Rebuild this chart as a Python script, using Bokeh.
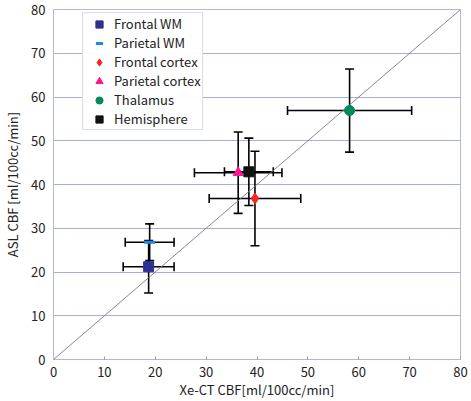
from bokeh.plotting import figure
from bokeh.models import ColumnDataSource, Whisker, TeeHead, Legend, LegendItem, FixedTicker, Range1d
from bokeh.embed import file_html
from bokeh.resources import INLINE

names = ["Frontal WM", "Parietal WM", "Frontal cortex", "Parietal cortex", "Thalamus", "Hemisphere"]
xe_cbf = [18.7, 18.9, 39.6, 36.3, 58.2, 38.4]
asl_cbf = [21.2, 26.8, 36.8, 42.7, 56.9, 42.9]
xe_sd = [5.0, 4.8, 9.0, 8.6, 12.2, 4.8]
asl_sd = [6.0, 4.2, 10.8, 9.3, 9.5, 7.7]
ticks = [0, 10, 20, 30, 40, 50, 60, 70, 80]
identity = [0, 80]

colors = ["#2e3192", "#1e88e5", "#ff2222", "#ff1493", "#008c5a", "#111111"]
markers = ["square", "dash", "diamond", "triangle", "circle", "square"]
sizes = [10, 11, 11, 10, 10, 10]

FONT = "Noto Sans CJK JP"

p = figure(width=471, height=401, output_backend="svg", toolbar_location=None,
           x_range=Range1d(0, 80), y_range=Range1d(0, 80),
           min_border_left=53, min_border_right=11, min_border_top=9, min_border_bottom=42)

p.background_fill_color = "white"
p.border_fill_color = "white"
p.outline_line_color = "#b4b8d4"
p.outline_line_width = 1

p.xgrid.grid_line_color = None
p.ygrid.grid_line_color = "#a9aee0"
p.ygrid.grid_line_width = 1

for ax in (p.xaxis[0], p.yaxis[0]):
    ax.ticker = FixedTicker(ticks=ticks)
    ax.axis_line_color = "#b4b8d4"
    ax.major_label_text_font = FONT
    ax.major_label_text_font_size = "13px"
    ax.major_label_text_color = "#222222"
    ax.axis_label_text_font = FONT
    ax.axis_label_text_font_size = "13px"
    ax.axis_label_text_font_style = "normal"
    ax.axis_label_text_color = "#222222"
    ax.minor_tick_line_color = None

p.xaxis.major_tick_in = 3
p.xaxis.major_tick_out = 0
p.xaxis.major_tick_line_color = "#999999"
p.yaxis.major_tick_line_color = None
p.yaxis.major_tick_in = 0
p.yaxis.major_tick_out = 0
p.xaxis.axis_label = "Xe-CT CBF[ml/100cc/min]"
p.yaxis.axis_label = "ASL CBF [ml/100cc/min]"
p.xaxis.axis_label_standoff = 0
p.yaxis.axis_label_standoff = 6
p.xaxis.major_label_standoff = 7
p.yaxis.major_label_standoff = 8

p.line(identity, identity, line_color="#7a7a86", line_width=0.9)

src = ColumnDataSource(dict(
    x=xe_cbf, y=asl_cbf,
    xlo=[a - b for a, b in zip(xe_cbf, xe_sd)], xhi=[a + b for a, b in zip(xe_cbf, xe_sd)],
    ylo=[a - b for a, b in zip(asl_cbf, asl_sd)], yhi=[a + b for a, b in zip(asl_cbf, asl_sd)],
))

wy = Whisker(source=src, base="x", lower="ylo", upper="yhi", dimension="height",
             line_color="black", line_width=1.6, level="underlay",
             lower_head=TeeHead(size=9, line_width=1.6, line_color="black"),
             upper_head=TeeHead(size=9, line_width=1.6, line_color="black"))
wx = Whisker(source=src, base="y", lower="xlo", upper="xhi", dimension="width",
             line_color="black", line_width=1.6, level="underlay",
             lower_head=TeeHead(size=9, line_width=1.6, line_color="black"),
             upper_head=TeeHead(size=9, line_width=1.6, line_color="black"))
p.add_layout(wy)
p.add_layout(wx)

items = []
for i, name in enumerate(names):
    r = p.scatter([xe_cbf[i]], [asl_cbf[i]], marker=markers[i], size=sizes[i],
                  fill_color=colors[i], line_color=colors[i],
                  line_width=3 if markers[i] == "dash" else 1)
    items.append(LegendItem(label=name, renderers=[r]))

legend = Legend(items=items, location=(29, 229))
legend.label_text_font = FONT
legend.label_text_font_size = "13px"
legend.label_text_color = "#222222"
legend.border_line_color = "#b4b8d4"
legend.border_line_width = 1
legend.spacing = 0
legend.padding = 1
legend.margin = 0
legend.glyph_width = 30
legend.glyph_height = 18
legend.label_standoff = -6
legend.label_height = 18
p.add_layout(legend)

open("out.html", "w").write(file_html(p, INLINE))
